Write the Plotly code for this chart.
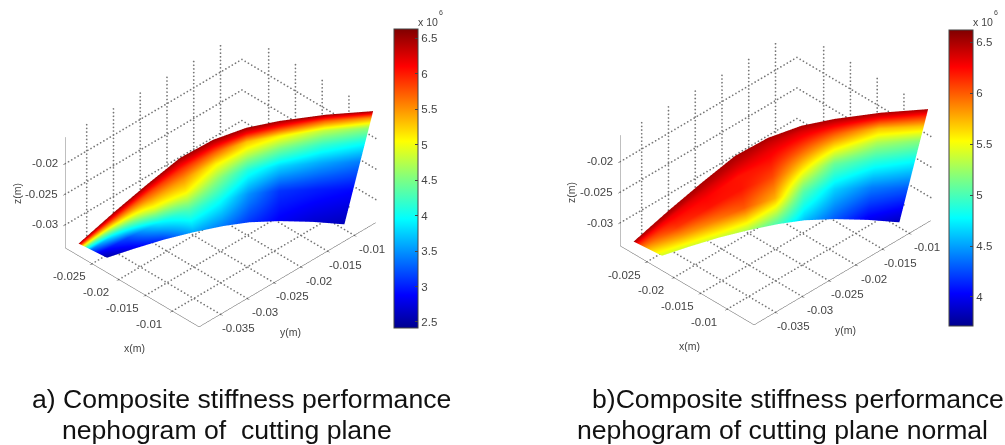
import plotly.graph_objects as go

x_ticks=[-.025,-.02,-.015,-.01]
y_ticks=[-.035,-.03,-.025,-.02,-.015,-.01]
z_ticks=[-.03,-.025,-.02]
x_range=[-.03,-.005]
y_range=[-.039,-.006]
z_range=[-.0338,-.0157]

x_km=[[2848,2815,2766,2695,2602,2465,2300],[2557,2534,2500,2450,2384,2288,2173],[2225,2212,2194,2167,2132,2081,2019],[2047,2036,2019,1995,1963,1916,1859],[1851,1841,1825,1803,1773,1730,1678],[1615,1608,1597,1580,1559,1528,1491],[1365,1357,1345,1327,1304,1270,1230],[981,976,969,958,943,922,897],[549,549,549,550,551,552,553]]
y_km=[[3803,3804,3806,3808,3811,3815,3819],[3442,3443,3444,3445,3446,3449,3452],[3153,3147,3138,3124,3106,3079,3047],[2711,2708,2702,2694,2684,2668,2650],[2288,2287,2286,2284,2281,2278,2273],[1903,1907,1913,1921,1931,1946,1965],[1533,1541,1553,1571,1593,1627,1667],[1048,1068,1098,1141,1197,1279,1378],[599,631,679,748,839,972,1132]]
z_m=[[-0.0328,-0.03276,-0.03271,-0.03263,-0.03253,-0.03238,-0.0322],[-0.0281,-0.02833,-0.02868,-0.02919,-0.02985,-0.03083,-0.032],[-0.0233,-0.02381,-0.02457,-0.02568,-0.02712,-0.02925,-0.0318],[-0.0203,-0.02099,-0.02202,-0.02352,-0.02547,-0.02835,-0.0318],[-0.0185,-0.0193,-0.0205,-0.0222,-0.0245,-0.0278,-0.0318],[-0.0173,-0.01817,-0.01947,-0.02136,-0.02382,-0.02745,-0.0318],[-0.0168,-0.0177,-0.01905,-0.021,-0.02355,-0.0273,-0.0318],[-0.0163,-0.01722,-0.01861,-0.02061,-0.02323,-0.02708,-0.0317],[-0.0158,-0.01675,-0.01817,-0.02022,-0.02291,-0.02686,-0.0316]]

stiff_a=[[6.5,6.0,5.2,4.2,3.3,2.8,2.5],[6.5,6.2,5.7,5.0,4.2,3.2,2.8],[6.5,6.2,5.8,5.4,4.9,3.9,3.1],[6.5,6.25,5.9,5.5,5.1,4.3,3.6],[6.5,6.2,5.7,5.1,4.6,4.0,3.4],[6.5,6.1,5.3,4.8,4.1,3.5,3.1],[6.5,6.0,5.1,4.5,3.8,3.1,2.85],[6.5,5.7,4.8,4.2,3.6,3.0,2.7],[6.5,5.5,4.6,4.0,3.4,2.9,2.6]]
stiff_b=[[6.5,6.4,6.2,6.0,5.8,5.6,5.4],[6.5,6.45,6.3,6.2,6.1,5.8,5.4],[6.5,6.45,6.35,6.25,6.2,5.9,5.4],[6.5,6.45,6.35,6.2,6.2,6.0,5.3],[6.5,6.4,6.3,6.2,6.05,5.75,5.0],[6.5,6.35,6.2,5.95,5.6,5.05,4.6],[6.5,6.3,6.0,5.6,5.1,4.65,4.3],[6.5,6.2,5.7,5.3,4.9,4.4,4.0],[6.5,6.15,5.7,5.2,4.8,4.3,3.85]]
cbar_a=[2.5,3,3.5,4,4.5,5,5.5,6,6.5]
cbar_b=[4,4.5,5,5.5,6,6.5]
range_a=[2.415,6.63]
range_b=[3.715,6.62]

jet=[[0,'rgb(0,0,143)'],[.11,'rgb(0,0,255)'],[.365,'rgb(0,255,255)'],[.5,'rgb(128,255,128)'],[.625,'rgb(255,255,0)'],[.875,'rgb(255,0,0)'],[1,'rgb(128,0,0)']]
TXT='#444444'
FONT='Liberation Sans'
W,H=1005,445
X=[[-v/1e5 for v in r] for r in x_km]
Y=[[-v/1e5 for v in r] for r in y_km]

def grid_trace(scene):
    xs,ys,zs=[],[],[]
    x0,x1=x_range;y0,y1=y_range;z0,z1=z_range
    STEP=.0006
    def seg(a,b):
        L=sum(abs(p-q) for p,q in zip(a,b))
        n=int(L/STEP)
        for i in range(n+1):
            t=i/n
            xs.append(a[0]+t*(b[0]-a[0]));ys.append(a[1]+t*(b[1]-a[1]));zs.append(a[2]+t*(b[2]-a[2]))
    for v in x_ticks:
        seg((v,y0,z0),(v,y1,z0));seg((v,y1,z0),(v,y1,z1))
    for v in y_ticks:
        seg((x0,v,z0),(x1,v,z0));seg((x0,v,z0),(x0,v,z1))
    for v in z_ticks:
        seg((x0,y0,v),(x0,y1,v));seg((x0,y1,v),(x1,y1,v))
    return go.Scatter3d(x=xs,y=ys,z=zs,mode='markers',marker=dict(color='#777777',size=1,line=dict(width=0)),hoverinfo='skip',showlegend=False,scene=scene)

def surf(scene,vals,rng,ticks,bar_x,bar_y,bar_len):
    return go.Surface(x=X,y=Y,z=z_m,surfacecolor=[[v*1e6 for v in r] for r in vals],colorscale=jet,cmin=rng[0]*1e6,cmax=rng[1]*1e6,
        lighting=dict(ambient=1,diffuse=0,specular=0,roughness=1,fresnel=0),hoverinfo='skip',scene=scene,
        colorbar=dict(x=bar_x/W,xanchor='left',y=1-bar_y/H,yanchor='middle',len=bar_len/H,lenmode='fraction',thickness=24,thicknessmode='pixels',xpad=0,ypad=0,
            outlinecolor='#444',outlinewidth=1,ticks='inside',ticklen=3,tickcolor='#444',tickvals=[t*1e6 for t in ticks],ticktext=[str(t) for t in ticks],
            tickfont=dict(family=FONT,size=11.5,color=TXT)))

ax=dict(showgrid=False,showbackground=False,zeroline=False,showline=True,linecolor='#555',linewidth=1,ticks='outside',ticklen=3,tickcolor='#555',showspikes=False,showticklabels=False,title=dict(text=''))
def tick_notes():
    f=dict(family=FONT,size=11.5,color=TXT)
    out=[]
    for v in x_ticks:
        out.append(dict(x=v,y=y_range[0],z=z_range[0],text=str(v),showarrow=False,xshift=-23,yshift=-13,font=f))
    for v in y_ticks:
        out.append(dict(x=x_range[1],y=v,z=z_range[0],text=str(v),showarrow=False,xshift=18,yshift=-14,font=f))
    for v in z_ticks:
        out.append(dict(x=x_range[0],y=y_range[0],z=v,text=str(v),showarrow=False,xanchor='right',xshift=-5,font=f))
    return out
def scene(l,t):
    return dict(domain=dict(x=[l/W,(l+441)/W],y=[1-(t+354)/H,1-t/H]),aspectmode='manual',aspectratio=dict(x=1.069,y=1.411,z=.774),
      camera=dict(projection=dict(type='orthographic'),up=dict(x=0,y=0,z=1),center=dict(x=0,y=0,z=0),eye=dict(x=1.456,y=-1.456,z=1.505)),
      xaxis=dict(ax,range=x_range,tickvals=x_ticks),
      yaxis=dict(ax,range=y_range,tickvals=y_ticks),
      zaxis=dict(ax,range=z_range,tickvals=z_ticks),
      annotations=tick_notes())

fig=go.Figure()
fig.add_trace(grid_trace('scene'))
fig.add_trace(surf('scene',stiff_a,range_a,cbar_a,394,178.5,299))
fig.add_trace(grid_trace('scene2'))
fig.add_trace(surf('scene2',stiff_b,range_b,cbar_b,949,178,296))

def note(x,y,text,size=10,color=TXT,angle=0,anchor='left'):
    return dict(x=x/W,y=1-y/H,xref='paper',yref='paper',text=text,showarrow=False,xanchor=anchor,yanchor='middle',textangle=angle,font=dict(family=FONT,size=size,color=color))
notes=[note(134,348,'x(m)',10.5,anchor='center'),note(290,331.5,'y(m)',10.5,anchor='center'),note(17,194,'z(m)',10.5,angle=-90,anchor='center'),
 note(689,346,'x(m)',10.5,anchor='center'),note(845,330,'y(m)',10.5,anchor='center'),note(571,193,'z(m)',10.5,angle=-90,anchor='center'),
 note(416,22,'x 10',10.5,anchor='left'),note(437,12,'6',7,anchor='left'),note(971,22,'x 10',10.5,anchor='left'),note(992,12,'6',7,anchor='left'),
 note(30,399,'a) Composite stiffness performance',26.6,'#111'),note(60,430,'nephogram of  cutting plane',26.6,'#111'),
 note(590,399,'b)Composite stiffness performance',26.6,'#111'),note(575,430,'nephogram of cutting plane normal',26.6,'#111')]
fig.update_layout(width=W,height=H,margin=dict(l=0,r=0,t=0,b=0),paper_bgcolor='white',showlegend=False,annotations=notes,
    scene=scene(0,2.7),scene2=scene(555,.8))
fig.write_html('out.html',post_script="document.body.style.margin='0';",config=dict(displayModeBar=False))
